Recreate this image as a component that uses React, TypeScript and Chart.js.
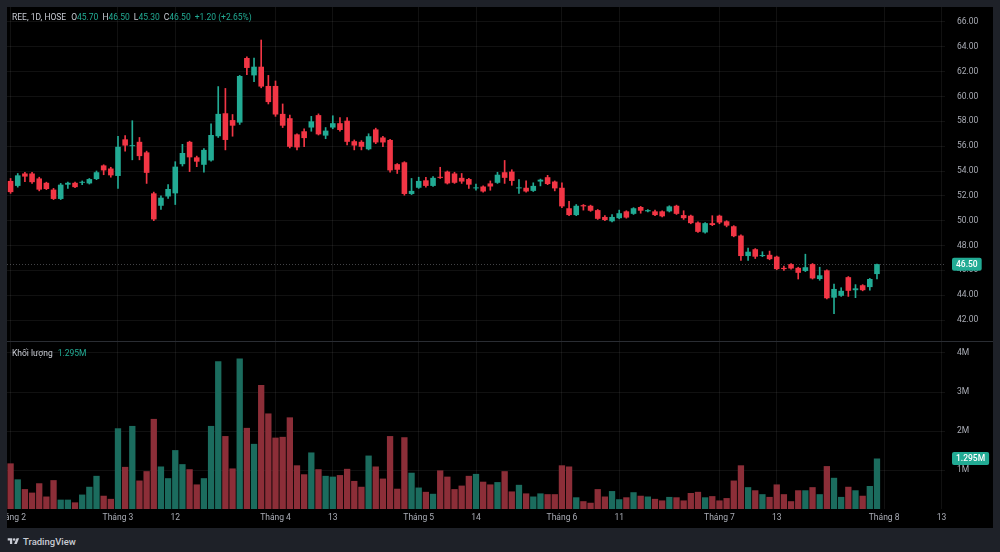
import React, { useEffect, useRef } from 'react';
import { Chart, registerables } from 'chart.js';

Chart.register(...registerables);

// ---- Data ----
const opens = [
  53.2, 52.8, 53.8, 53.8, 53.4, 53.05, 52.5, 51.75, 52.9, 53.05,
  53.05, 53.0, 53.35, 54.45, 54.2, 53.6, 56.55, 56.0, 56.35, 55.5,
  52.2, 51.2, 51.95, 52.2, 54.55, 56.35, 55.1, 54.5, 54.85, 56.8,
  58.65, 58.1, 57.9, 63.1, 61.7, 62.4, 60.85, 60.85, 58.6, 58.25,
  56.95, 57.2, 57.5, 58.5, 56.85, 57.5, 57.85, 58.05, 56.4, 56.35,
  55.75, 57.35, 56.7, 56.5, 54.55, 54.7, 52.15, 52.65, 53.25, 52.8,
  53.5, 53.95, 53.8, 53.45, 53.35, 52.6, 52.75, 53.0, 53.05, 53.9,
  53.95, 52.6, 52.65, 52.4, 53.15, 53.5, 53.15, 52.65, 51.0, 50.45,
  51.25, 51.2, 50.85, 50.3, 49.95, 50.2, 50.75, 50.55, 51.1, 50.75,
  50.75, 50.75, 50.75, 51.2, 50.45, 50.4, 49.85, 49.05, 49.8, 50.4,
  49.95, 49.55, 48.8, 47.15, 47.7, 47.15, 47.25, 47.1, 46.2, 46.5,
  46.2, 45.95, 46.5, 45.3, 46.0, 43.8, 43.95, 45.45, 44.4, 44.8,
  44.65, 45.7,
];
const highs = [
  53.4, 53.8, 53.9, 53.9, 53.5, 53.1, 52.6, 53.0, 53.1, 53.1,
  53.2, 53.4, 54.0, 54.5, 54.3, 56.8, 56.85, 58.05, 56.7, 55.6,
  52.3, 52.0, 52.9, 54.75, 56.15, 56.4, 55.2, 55.8, 57.8, 60.8,
  60.65, 58.55, 61.7, 63.2, 63.1, 64.55, 61.7, 61.25, 59.4, 58.5,
  57.0, 57.4, 58.4, 58.6, 57.5, 58.45, 58.3, 58.3, 56.5, 56.45,
  57.0, 57.45, 56.8, 56.55, 54.6, 54.75, 53.4, 53.5, 53.5, 53.55,
  54.3, 54.0, 53.9, 53.8, 53.4, 52.95, 52.8, 53.2, 53.9, 54.85,
  54.1, 53.3, 53.2, 53.05, 53.35, 53.65, 53.2, 53.05, 51.55, 51.3,
  51.3, 51.25, 50.9, 50.4, 50.5, 50.85, 50.8, 51.05, 51.15, 50.9,
  50.85, 50.8, 51.2, 51.25, 50.8, 50.45, 49.9, 49.85, 50.4, 50.45,
  50.0, 49.6, 48.85, 47.8, 47.75, 47.5, 47.55, 47.15, 46.35, 46.55,
  46.25, 47.3, 46.55, 46.25, 46.05, 44.9, 44.6, 45.5, 44.85, 44.85,
  45.35, 46.5,
];
const lows = [
  52.2, 52.7, 53.15, 53.0, 52.4, 52.5, 51.7, 51.7, 52.6, 52.65,
  52.9, 52.95, 53.3, 53.7, 53.5, 52.6, 55.6, 54.9, 54.9, 53.0,
  50.0, 50.9, 51.8, 51.3, 54.4, 53.95, 54.35, 53.9, 54.8, 56.7,
  55.7, 56.8, 57.75, 61.75, 61.2, 60.7, 59.4, 58.4, 57.5, 55.85,
  55.7, 55.95, 57.2, 56.9, 56.6, 57.4, 57.2, 56.1, 55.7, 55.7,
  55.7, 56.2, 55.95, 53.9, 53.8, 52.05, 52.1, 52.6, 52.7, 52.75,
  53.4, 52.95, 53.0, 53.0, 52.6, 52.45, 52.3, 52.45, 53.0, 53.0,
  52.85, 52.2, 52.3, 52.35, 52.8, 52.9, 52.4, 51.05, 50.4, 50.4,
  50.85, 50.75, 50.1, 50.0, 49.9, 50.15, 50.2, 50.5, 50.6, 50.7,
  50.4, 50.3, 50.7, 50.5, 50.1, 49.75, 49.05, 49.0, 49.6, 49.75,
  49.5, 48.7, 46.8, 46.8, 46.95, 47.1, 46.85, 46.05, 46.0, 46.1,
  45.3, 45.9, 45.3, 45.2, 43.7, 42.5, 43.9, 43.9, 43.8, 44.35,
  44.4, 45.3,
];
const closes = [
  52.3, 53.65, 53.55, 53.1, 52.5, 52.55, 51.75, 52.9, 53.05, 52.7,
  53.1, 53.35, 53.9, 54.05, 53.65, 55.95, 56.05, 56.05, 55.2, 53.85,
  50.1, 51.85, 52.55, 54.35, 55.45, 55.1, 54.75, 55.7, 56.9, 58.6,
  56.5, 57.65, 61.65, 62.3, 62.4, 60.8, 59.55, 58.55, 57.65, 55.95,
  55.9, 56.65, 58.0, 56.95, 57.25, 57.85, 57.3, 56.35, 56.05, 55.95,
  56.8, 56.3, 56.3, 54.05, 54.1, 52.15, 52.4, 53.2, 52.8, 53.45,
  53.45, 53.0, 53.05, 53.15, 52.9, 52.65, 52.35, 52.75, 53.7, 53.45,
  53.2, 52.65, 52.35, 52.8, 53.3, 52.95, 52.6, 51.15, 50.45, 51.2,
  51.15, 50.8, 50.15, 50.05, 50.3, 50.6, 50.25, 51.0, 50.8, 50.85,
  50.45, 50.35, 51.15, 50.55, 50.2, 49.8, 49.1, 49.8, 49.65, 49.85,
  49.6, 48.75, 47.15, 47.5, 47.1, 47.2, 46.9, 46.1, 46.1, 46.15,
  45.8, 46.25, 45.35, 45.6, 43.75, 44.5, 44.35, 44.35, 44.55, 44.4,
  45.3, 46.5,
];
// volume in millions of shares
const volumes = [
  1.17, 0.76, 0.51, 0.42, 0.66, 0.32, 0.74, 0.24, 0.24, 0.17,
  0.37, 0.57, 0.85, 0.34, 0.26, 2.07, 1.08, 2.13, 0.73, 0.97,
  2.31, 1.09, 0.79, 1.51, 1.15, 1.02, 0.63, 0.79, 2.13, 3.79,
  1.87, 1.04, 3.86, 2.08, 1.67, 3.18, 2.45, 1.83, 1.85, 2.35,
  1.12, 0.89, 1.45, 1.02, 0.85, 0.83, 0.87, 1.03, 0.72, 0.57,
  1.37, 1.09, 0.78, 1.87, 0.52, 1.84, 0.93, 0.55, 0.44, 0.39,
  0.99, 0.83, 0.51, 0.6, 0.85, 0.9, 0.7, 0.63, 0.69, 0.97,
  0.45, 0.62, 0.4, 0.32, 0.4, 0.38, 0.38, 1.12, 1.09, 0.3,
  0.2, 0.16, 0.51, 0.32, 0.46, 0.25, 0.3, 0.43, 0.34, 0.32,
  0.26, 0.22, 0.31, 0.3, 0.22, 0.41, 0.44, 0.3, 0.33, 0.22,
  0.28, 0.73, 1.12, 0.56, 0.48, 0.38, 0.31, 0.63, 0.38, 0.2,
  0.48, 0.48, 0.56, 0.38, 1.1, 0.8, 0.31, 0.57, 0.48, 0.34,
  0.59, 1.295,
];
const futureSlots = 9;
const timeTickIndex = [0, 15, 23, 37, 45, 57, 65, 77, 85, 99, 107, 122, 130];
const timeTickText = ['Tháng 2', 'Tháng 3', '12', 'Tháng 4', '13', 'Tháng 5', '14', 'Tháng 6', '11', 'Tháng 7', '13', 'Tháng 8', '13'];
const priceTicks = [42, 44, 46, 48, 50, 52, 54, 56, 58, 60, 62, 64, 66];
const volumeTicks = [1, 2, 3, 4];
const lastClose = 46.5;
const lastVolume = 1.295;

// ---- Style ----
const GREEN = '#22ab94';
const RED = '#f23645';
const VOL_GREEN = '#1b6c5e';
const VOL_RED = '#8c2e38';
const GRID = 'rgba(255,255,255,0.065)';
const TEXT = '#a9acb5';
const FONT = 'Roboto, "Noto Sans", sans-serif';

const totalSlots = closes.length + futureSlots;
const categories: string[] = Array.from({ length: totalSlots }, (_, i) => {
  const k = timeTickIndex.indexOf(i);
  return k >= 0 ? timeTickText[k] : '';
});
const isUp = closes.map((c, i) => c >= opens[i]);

function labelPlugin(id: string, value: number, text: string) {
  return {
    id,
    afterDraw(chart: any) {
      const { ctx, chartArea, scales } = chart;
      const y = scales.y.getPixelForValue(value);
      ctx.save();
      ctx.font = `500 8.5px ${FONT}`;
      const w = ctx.measureText(text).width + 8;
      const x = chartArea.right + 7;
      ctx.fillStyle = GREEN;
      ctx.beginPath();
      (ctx as any).roundRect ? ctx.roundRect(x, y - 6.5, w, 13, 2) : ctx.rect(x, y - 6.5, w, 13);
      ctx.fill();
      ctx.fillStyle = '#ffffff';
      ctx.textAlign = 'center';
      ctx.textBaseline = 'middle';
      ctx.fillText(text, x + w / 2, y + 0.5);
      ctx.restore();
    },
  };
}

const priceLinePlugin = {
  id: 'priceLine',
  beforeDatasetsDraw(chart: any) {
    const { ctx, chartArea, scales } = chart;
    const y = Math.round(scales.y.getPixelForValue(lastClose)) + 0.5;
    ctx.save();
    ctx.strokeStyle = 'rgba(190,193,200,0.35)';
    ctx.lineWidth = 1;
    ctx.setLineDash([1, 2]);
    ctx.beginPath();
    ctx.moveTo(chartArea.left, y);
    ctx.lineTo(chartArea.right, y);
    ctx.stroke();
    ctx.restore();
  },
};

const xGridColor = (c: any) => (c.tick && c.tick.label ? GRID : 'rgba(0,0,0,0)');
const noPad = (a: any) => {
  a.paddingLeft = 0;
  a.paddingRight = 0;
  a.paddingTop = 0;
  a.paddingBottom = 0;
};

export default function App() {
  const priceRef = useRef<HTMLCanvasElement>(null);
  const volRef = useRef<HTMLCanvasElement>(null);

  useEffect(() => {
    const AXIS_W = 48;
    const pxPerUnit = 298 / 24;
    const priceMax = 66 + 15 / pxPerUnit;
    const priceMin = 42 - 21 / pxPerUnit;

    const price = new Chart(priceRef.current!, {
      type: 'bar',
      data: {
        labels: categories,
        datasets: [
          {
            data: highs.map((h, i) => [lows[i], h]) as any,
            backgroundColor: isUp.map((u) => (u ? GREEN : RED)),
            barThickness: 1,
            grouped: false,
            order: 2,
          } as any,
          {
            data: opens.map((o, i) => [Math.min(o, closes[i]), Math.max(o, closes[i])]) as any,
            backgroundColor: isUp.map((u) => (u ? GREEN : RED)),
            barPercentage: 0.78,
            categoryPercentage: 1,
            minBarLength: 1,
            grouped: false,
            order: 1,
          } as any,
        ],
      },
      options: {
        animation: false,
        responsive: false,
        maintainAspectRatio: false,
        layout: { padding: 0, autoPadding: false } as any,
        plugins: { legend: { display: false }, tooltip: { enabled: false } },
        scales: {
          x: {
            type: 'category',
            offset: true,
            grid: { offset: false, color: xGridColor, drawTicks: false },
            border: { display: false },
            ticks: { display: true, autoSkip: false, maxRotation: 0, minRotation: 0, callback: (_v: any, i: number) => categories[i], color: 'rgba(0,0,0,0)', font: { size: 1 } },
            afterFit: (a: any) => { a.height = 0; noPad(a); },
          },
          y: {
            position: 'right',
            min: priceMin,
            max: priceMax,
            afterBuildTicks: (a: any) => { a.ticks = priceTicks.map((v) => ({ value: v })); },
            grid: { color: GRID, drawTicks: false },
            border: { display: false },
            ticks: {
              padding: 12,
              color: TEXT,
              font: { family: FONT, size: 8.5 },
              callback: (v: any) => Number(v).toFixed(2),
            },
            afterFit: (a: any) => { a.width = AXIS_W; noPad(a); },
          },
        },
      } as any,
      plugins: [priceLinePlugin, labelPlugin('lastPrice', lastClose, lastClose.toFixed(2))],
    });

    const volH = 186;
    const volBottom = 167;
    const volMax = volBottom / 39;

    const vol = new Chart(volRef.current!, {
      type: 'bar',
      data: {
        labels: categories,
        datasets: [
          {
            data: volumes,
            backgroundColor: isUp.map((u) => (u ? VOL_GREEN : VOL_RED)),
            barPercentage: 0.88,
            categoryPercentage: 1,
          },
        ],
      },
      options: {
        animation: false,
        responsive: false,
        maintainAspectRatio: false,
        layout: { padding: 0, autoPadding: false } as any,
        plugins: { legend: { display: false }, tooltip: { enabled: false } },
        scales: {
          x: {
            type: 'category',
            offset: true,
            grid: { offset: false, color: xGridColor, drawTicks: false },
            border: { display: false },
            ticks: {
              autoSkip: false,
              maxRotation: 0,
              minRotation: 0,
              padding: 4,
              color: TEXT,
              font: { family: FONT, size: 8.5 },
              callback: (_v: any, i: number) => categories[i],
            },
            afterFit: (a: any) => { a.height = volH - volBottom; noPad(a); },
          },
          y: {
            position: 'right',
            min: 0,
            max: volMax,
            afterBuildTicks: (a: any) => { a.ticks = volumeTicks.map((v) => ({ value: v })); },
            grid: { color: GRID, drawTicks: false },
            border: { display: false },
            ticks: {
              padding: 12,
              color: TEXT,
              font: { family: FONT, size: 8.5 },
              callback: (v: any) => `${v}M`,
            },
            afterFit: (a: any) => { a.width = AXIS_W; noPad(a); },
          },
        },
      } as any,
      plugins: [labelPlugin('lastVol', lastVolume, `${lastVolume.toFixed(3)}M`)],
    });

    return () => {
      price.destroy();
      vol.destroy();
    };
  }, []);

  const lbl = { color: '#c9ccd4' };
  const val = { color: GREEN };

  return (
    <div style={{ position: 'fixed', left: 0, top: 0, width: 1000, height: 552, background: '#1e2128', fontFamily: FONT, overflow: 'hidden' }}>
      <div style={{ position: 'absolute', left: 7, top: 7, width: 986, height: 521, background: '#000000' }}>
        <canvas ref={priceRef} width={986} height={334} style={{ position: 'absolute', left: 0, top: 0, width: 986, height: 334, display: 'block' }} />
        <div style={{ position: 'absolute', left: 0, top: 334, width: 986, height: 1, background: '#2a2d33' }} />
        <canvas ref={volRef} width={986} height={186} style={{ position: 'absolute', left: 0, top: 335, width: 986, height: 186, display: 'block' }} />
        <div style={{ position: 'absolute', left: 5, top: 4, fontSize: 8.5, lineHeight: '12px', whiteSpace: 'nowrap', ...lbl }}>
          <span>REE, 1D, HOSE</span>
          <span style={{ marginLeft: 5 }}>O</span><span style={val}>45.70</span>
          <span style={{ marginLeft: 4 }}>H</span><span style={val}>46.50</span>
          <span style={{ marginLeft: 4 }}>L</span><span style={val}>45.30</span>
          <span style={{ marginLeft: 4 }}>C</span><span style={val}>46.50</span>
          <span style={{ marginLeft: 4, ...val }}>+1.20 (+2.65%)</span>
        </div>
        <div style={{ position: 'absolute', left: 5, top: 340, fontSize: 8.5, lineHeight: '12px', whiteSpace: 'nowrap', ...lbl }}>
          <span>Khối lượng</span>
          <span style={{ marginLeft: 5, ...val }}>1.295M</span>
        </div>
      </div>
      <div style={{ position: 'absolute', left: 7, top: 535, height: 12, display: 'flex', alignItems: 'center', color: '#c9ccd4', fontSize: 9.5, fontWeight: 500 }}>
        <svg width="13" height="9" viewBox="0 0 36 28" style={{ marginRight: 3 }}>
          <path d="M14 22H7V11H0V4h14v18zM28 22h-8l7.5-18h8L28 22z" fill="#c9ccd4" />
          <circle cx="20" cy="8" r="4" fill="#c9ccd4" />
        </svg>
        <span>TradingView</span>
      </div>
    </div>
  );
}
